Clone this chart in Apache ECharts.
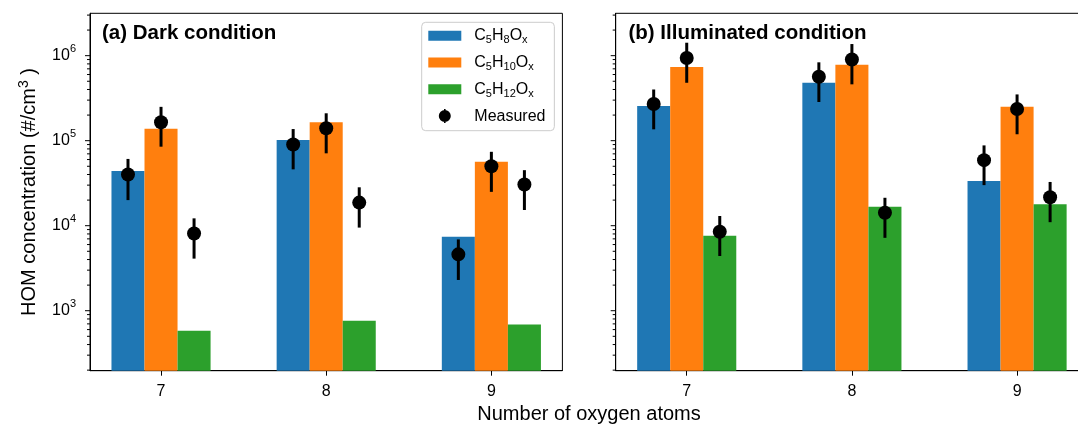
<!DOCTYPE html>
<html><head><meta charset="utf-8">
<script src="https://cdn.jsdelivr.net/npm/echarts@6/dist/echarts.min.js"></script>
<style>html,body{margin:0;padding:0;background:#fff}#c{width:1078px;height:428px}</style>
</head><body><div id="c"></div>
<script>
// ---------------- data ----------------
const categories = [7, 8, 9];
const speciesNames = ['C5H8Ox', 'C5H10Ox', 'C5H12Ox'];
const speciesLabels = ['C{s|5}H{s|8}O{s|x}', 'C{s|5}H{s|10}O{s|x}', 'C{s|5}H{s|12}O{s|x}'];
const measuredName = 'Measured';
const panelTitles = ['(a) Dark condition', '(b) Illuminated condition'];
const xAxisTitle = 'Number of oxygen atoms';
const yAxisTitle = 'HOM concentration (#/cm{sup|3} )';
const majorTickValues = [1e3, 1e4, 1e5, 1e6];

// (a) dark: modelled bars
const darkC5H8 = [4.4e4, 1.02e5, 7.4e3];
const darkC5H10 = [1.38e5, 1.65e5, 5.66e4];
const darkC5H12 = [580, 760, 690];
// (a) dark: measured points and error limits
const darkMeasC5H8 = [4.0e4, 9.0e4, 4.6e3];
const darkLoC5H8 = [2.0e4, 4.6e4, 2.3e3];
const darkHiC5H8 = [6.1e4, 1.37e5, 6.9e3];
const darkMeasC5H10 = [1.65e5, 1.40e5, 5.0e4];
const darkLoC5H10 = [8.5e4, 7.1e4, 2.5e4];
const darkHiC5H10 = [2.5e5, 2.1e5, 7.4e4];
const darkMeasC5H12 = [8.1e3, 1.87e4, 3.05e4];
const darkLoC5H12 = [4.1e3, 9.5e3, 1.53e4];
const darkHiC5H12 = [1.22e4, 2.83e4, 4.5e4];

// (b) illuminated: modelled bars
const lightC5H8 = [2.56e5, 4.8e5, 3.36e4];
const lightC5H10 = [7.36e5, 7.8e5, 2.5e5];
const lightC5H12 = [7.6e3, 1.67e4, 1.79e4];
// (b) illuminated: measured points and error limits
const lightMeasC5H8 = [2.7e5, 5.65e5, 5.9e4];
const lightLoC5H8 = [1.36e5, 2.85e5, 3.0e4];
const lightHiC5H8 = [4.0e5, 8.35e5, 8.8e4];
const lightMeasC5H10 = [9.4e5, 9.0e5, 2.36e5];
const lightLoC5H10 = [4.8e5, 4.6e5, 1.19e5];
const lightHiC5H10 = [1.42e6, 1.37e6, 3.5e5];
const lightMeasC5H12 = [8.5e3, 1.42e4, 2.16e4];
const lightLoC5H12 = [4.4e3, 7.2e3, 1.1e4];
const lightHiC5H12 = [1.3e4, 2.13e4, 3.27e4];

// ---------------- layout / style ----------------
const FONT = '"Liberation Sans", Arial, sans-serif';
const COLORS = ['#1f77b4', '#ff7f0e', '#2ca02c'];
const BAR_W = 0.2;
const OFFSETS = [-0.2, 0, 0.2];
const X_MIN = 6.57, X_MAX = 9.43;
const Y_MIN = 197, Y_MAX = 3.15e6;

const minorTickValues = [];
for (let e = 2; e <= 6; e++) {
  for (let m = 2; m <= 9; m++) {
    const v = m * Math.pow(10, e);
    if (v > Y_MIN && v < Y_MAX) minorTickValues.push(v);
  }
}

const panels = [
  { bars: [darkC5H8, darkC5H10, darkC5H12],
    meas: [darkMeasC5H8, darkMeasC5H10, darkMeasC5H12],
    lo: [darkLoC5H8, darkLoC5H10, darkLoC5H12],
    hi: [darkHiC5H8, darkHiC5H10, darkHiC5H12] },
  { bars: [lightC5H8, lightC5H10, lightC5H12],
    meas: [lightMeasC5H8, lightMeasC5H10, lightMeasC5H12],
    lo: [lightLoC5H8, lightLoC5H10, lightLoC5H12],
    hi: [lightHiC5H8, lightHiC5H10, lightHiC5H12] }
];

function barRender(si) {
  return function (params, api) {
    const x = api.value(0) + OFFSETS[si];
    const top = api.coord([x - BAR_W / 2, api.value(1)]);
    const bot = api.coord([x + BAR_W / 2, Y_MIN]);
    return { type: 'rect',
      shape: { x: top[0], y: top[1], width: bot[0] - top[0], height: bot[1] - top[1] },
      style: { fill: api.visual('color') } };
  };
}
function measRender(params, api) {
  const x = api.value(0);
  const c = api.coord([x, api.value(1)]);
  const lo = api.coord([x, api.value(2)]);
  const hi = api.coord([x, api.value(3)]);
  return { type: 'group', children: [
    { type: 'line', shape: { x1: c[0], y1: lo[1], x2: c[0], y2: hi[1] }, style: { stroke: '#000', lineWidth: 3 } },
    { type: 'circle', shape: { cx: c[0], cy: c[1], r: 7 }, style: { fill: '#000' } }
  ] };
}
function tickRender(len) {
  return function (params, api) {
    const p = api.coord([X_MIN, api.value(1)]);
    return { type: 'line', shape: { x1: p[0] - len, y1: p[1], x2: p[0], y2: p[1] },
      style: { stroke: '#000', lineWidth: 1 } };
  };
}

const series = [];
panels.forEach((pn, gi) => {
  speciesNames.forEach((name, si) => {
    series.push({
      type: 'custom', name: name, xAxisIndex: gi, yAxisIndex: gi,
      itemStyle: { color: COLORS[si] },
      encode: { x: 0, y: 1 },
      data: categories.map((c, ci) => [c, pn.bars[si][ci]]),
      renderItem: barRender(si), z: 2
    });
  });
  const md = [];
  speciesNames.forEach((name, si) => {
    categories.forEach((c, ci) => {
      md.push([c + OFFSETS[si], pn.meas[si][ci], pn.lo[si][ci], pn.hi[si][ci]]);
    });
  });
  series.push({
    type: 'custom', name: measuredName, xAxisIndex: gi, yAxisIndex: gi,
    itemStyle: { color: '#000' }, encode: { x: 0, y: 1 },
    data: md, renderItem: measRender, z: 3
  });
  series.push({
    type: 'custom', xAxisIndex: gi, yAxisIndex: gi, silent: true, encode: { x: 0, y: 1 },
    data: majorTickValues.map(v => [X_MIN, v]), renderItem: tickRender(5), z: 4
  });
  series.push({
    type: 'custom', xAxisIndex: gi, yAxisIndex: gi, silent: true, encode: { x: 0, y: 1 },
    data: minorTickValues.map(v => [X_MIN, v]), renderItem: tickRender(3), z: 4
  });
});

const GRID_TOP = 13.3, GRID_H = 357.4, GRID_W = 472.4;
const grids = [
  { left: 90, top: GRID_TOP, width: GRID_W, height: GRID_H },
  { left: 615.7, top: GRID_TOP, width: GRID_W, height: GRID_H }
].map(g => Object.assign(g, { show: true, borderColor: '#000', borderWidth: 1, backgroundColor: 'transparent', containLabel: false, outerBoundsMode: 'none' }));

const xAxes = [0, 1].map(gi => ({
  type: 'value', gridIndex: gi, min: X_MIN, max: X_MAX,
  axisLine: { show: true, onZero: false, lineStyle: { color: '#000', width: 1 } },
  axisTick: { show: true, length: 5, customValues: categories, lineStyle: { color: '#000', width: 1 } },
  axisLabel: { show: true, customValues: categories, margin: 13, fontSize: 16, fontFamily: FONT, color: '#000', lineHeight: 16 },
  splitLine: { show: false }
}));

const yAxes = [0, 1].map(gi => ({
  type: 'log', logBase: 10, gridIndex: gi, min: Y_MIN, max: Y_MAX,
  axisLine: { show: true, onZero: false, lineStyle: { color: '#000', width: 1 } },
  axisTick: { show: false },
  splitLine: { show: false },
  minorSplitLine: { show: false },
  axisLabel: {
    show: gi === 0, margin: 14, fontFamily: FONT, color: '#000',
    formatter: function (v) {
      const e = Math.log10(v);
      const r = Math.round(e);
      if (Math.abs(e - r) > 1e-6) return '';
      return '{b|10}{s|' + r + '}';
    },
    rich: {
      b: { fontSize: 16, lineHeight: 24, fontFamily: FONT, color: '#000' },
      s: { fontSize: 11, lineHeight: 6, verticalAlign: 'top', fontFamily: FONT, color: '#000' }
    }
  },
  name: gi === 0 ? yAxisTitle : '',
  nameLocation: 'middle', nameGap: 49,
  nameTextStyle: {
    fontSize: 20, fontFamily: FONT, color: '#000', lineHeight: 24,
    rich: { sup: { fontSize: 14, lineHeight: 7, verticalAlign: 'top', fontFamily: FONT, color: '#000' } }
  }
}));

const RECT_ICON = 'path://M0,0 M33,14 M0,2 L33,2 L33,12 L0,12 Z';
const MEAS_ICON = 'path://M0,0 M33,14 M15.7,0 L17.3,0 L17.3,14 L15.7,14 Z M22.5,7 A6,6 0 1,1 10.5,7 A6,6 0 1,1 22.5,7 Z';
const labelMap = {};
speciesNames.forEach((n, i) => { labelMap[n] = speciesLabels[i]; });

const option = {
  animation: false,
  backgroundColor: '#fff',
  grid: grids,
  xAxis: xAxes,
  yAxis: yAxes,
  title: [
    { text: panelTitles[0], left: 102, top: 23.5, padding: 0,
      textStyle: { fontFamily: FONT, fontSize: 20.5, fontWeight: 'bold', color: '#000', lineHeight: 20 } },
    { text: panelTitles[1], left: 628.5, top: 23.5, padding: 0,
      textStyle: { fontFamily: FONT, fontSize: 20.5, fontWeight: 'bold', color: '#000', lineHeight: 20 } }
  ],
  graphic: [
    { type: 'text', x: 589, y: 414, silent: true,
      style: { text: xAxisTitle, fontSize: 20, fontFamily: FONT, fill: '#000', align: 'center', verticalAlign: 'middle' } }
  ],
  legend: {
    orient: 'vertical', left: 421.7, top: 22.3,
    backgroundColor: '#fff', borderColor: '#cccccc', borderWidth: 1, borderRadius: 4,
    padding: [3.4, 8.9, 4.6, 6.6],
    itemWidth: 33, itemHeight: 14, itemGap: 6.8,
    selectedMode: false,
    data: speciesNames.map(n => ({ name: n, icon: RECT_ICON })).concat([{ name: measuredName, icon: MEAS_ICON }]),
    formatter: function (name) { return '{g|}' + (labelMap[name] || name); },
    textStyle: {
      fontFamily: FONT, fontSize: 16, color: '#000', lineHeight: 20,
      rich: {
        g: { width: 8 },
        s: { fontSize: 11, lineHeight: 11, verticalAlign: 'bottom', fontFamily: FONT, color: '#000' }
      }
    }
  },
  series: series
};

const chart = echarts.init(document.getElementById('c'), null, { renderer: 'canvas', width: 1078, height: 428 });
chart.setOption(option);
</script>
</body></html>
